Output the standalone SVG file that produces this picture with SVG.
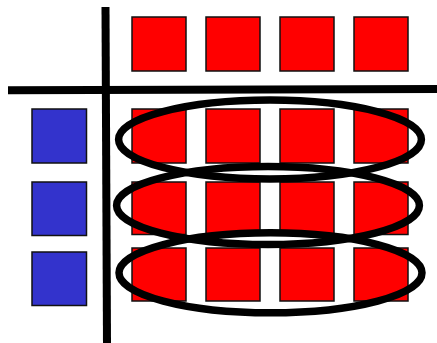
<svg xmlns="http://www.w3.org/2000/svg" width="437" height="343" viewBox="0 0 437 343">
<style>
.r{fill:#ff0000;stroke:#111;stroke-width:1.5}
.b{fill:#3333cc;stroke:#111;stroke-width:1.5}
.ax{stroke:#000;stroke-width:8;fill:none}
.el{fill:none;stroke:#000;stroke-width:7.5}
</style>
<rect width="437" height="343" fill="#fff"/>
<g id="axes">
<line class="ax" x1="105.5" y1="7" x2="107" y2="343"/>
<line class="ax" x1="8" y1="90.3" x2="437" y2="89"/>
</g>
<g id="top-row">
<rect class="r" x="132" y="17" width="54" height="54"/>
<rect class="r" x="206" y="17" width="54" height="54"/>
<rect class="r" x="280" y="17" width="54" height="54"/>
<rect class="r" x="354" y="17" width="54" height="54"/>
</g>
<g id="blue-column">
<rect class="b" x="32" y="109" width="54.5" height="54"/>
<rect class="b" x="32" y="182" width="54.5" height="53.5"/>
<rect class="b" x="32" y="252" width="54.5" height="53.5"/>
</g>
<g id="row-1">
<rect class="r" x="132" y="109" width="54" height="54"/>
<rect class="r" x="206" y="109" width="54" height="54"/>
<rect class="r" x="280" y="109" width="54" height="54"/>
<rect class="r" x="354" y="109" width="54" height="54"/>
</g>
<g id="row-2">
<rect class="r" x="132" y="182" width="54" height="52.5"/>
<rect class="r" x="206" y="182" width="54" height="52.5"/>
<rect class="r" x="280" y="182" width="54" height="52.5"/>
<rect class="r" x="354" y="182" width="54" height="52.5"/>
</g>
<g id="row-3">
<rect class="r" x="132" y="248" width="54" height="53"/>
<rect class="r" x="206" y="248" width="54" height="53"/>
<rect class="r" x="280" y="248" width="54" height="53"/>
<rect class="r" x="354" y="248" width="54" height="53"/>
</g>
<g id="ellipses">
<ellipse class="el" cx="270" cy="139.5" rx="151.4" ry="39.5"/>
<ellipse class="el" cx="268" cy="205.5" rx="151.4" ry="39"/>
<ellipse class="el" cx="270.5" cy="272.8" rx="151.5" ry="40"/>
</g>
</svg>
